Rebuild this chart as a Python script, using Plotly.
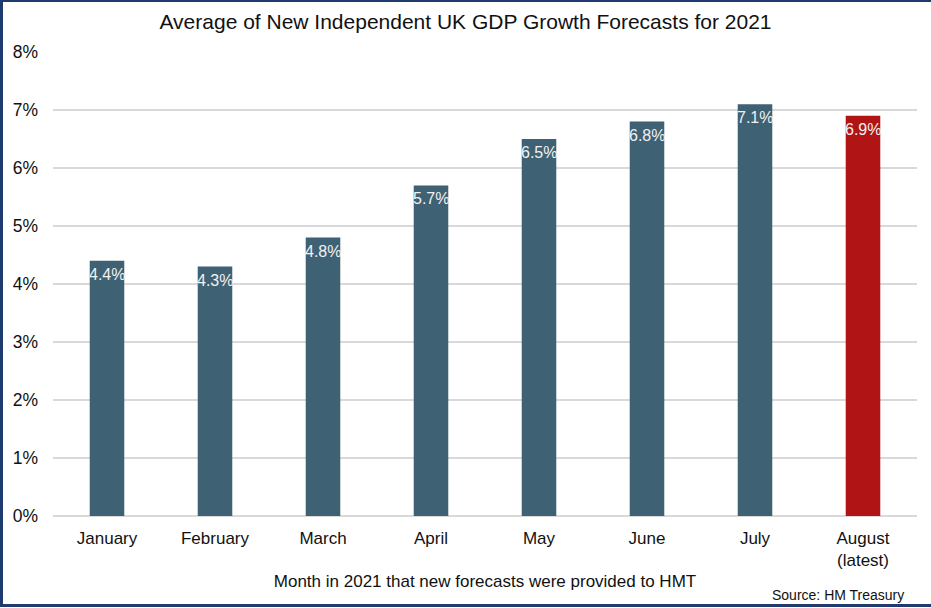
import plotly.graph_objects as go

months = ["January", "February", "March", "April", "May", "June", "July", "August<br>(latest)"]
forecasts = [4.4, 4.3, 4.8, 5.7, 6.5, 6.8, 7.1, 6.9]
bar_colors = ["#3e6174"] * 7 + ["#b01414"]
y_ticks = [0, 1, 2, 3, 4, 5, 6, 7, 8]
y_tick_labels = [f"{v}%" for v in y_ticks]

W, H = 931, 608
ML, MR, MT, MB = 53, 14, 52, 92
PW, PH = W - ML - MR, H - MT - MB

def px_x(px):
    return (px - ML) / PW

def px_y(py):
    return (H - MB - py) / PH

fig = go.Figure(
    go.Bar(
        x=months,
        y=forecasts,
        marker=dict(color=bar_colors, line=dict(width=0)),
        width=0.32,
        hoverinfo="skip",
    )
)

# value labels sitting just inside the top of each bar
for m, v in zip(months, forecasts):
    fig.add_annotation(
        x=m, y=v, text=f"{v:.1f}%", showarrow=False,
        yanchor="top", yshift=-3,
        font=dict(family="Liberation Sans, Arial", size=16, color="#f2f2f2"),
    )

fig.add_annotation(
    xref="paper", yref="paper", x=px_x(906), y=px_y(595),
    text="Source: HM Treasury", showarrow=False,
    xanchor="right", yanchor="middle",
    font=dict(family="Liberation Sans, Arial", size=14, color="#111111"),
)

border = "#1f3a6e"
fig.add_shape(type="rect", xref="paper", yref="paper",
              x0=px_x(0), x1=px_x(3), y0=px_y(607), y1=px_y(0),
              fillcolor=border, line=dict(width=0), layer="above")
fig.add_shape(type="rect", xref="paper", yref="paper",
              x0=px_x(0), x1=px_x(W), y0=px_y(2), y1=px_y(0),
              fillcolor=border, line=dict(width=0), layer="above")
fig.add_shape(type="rect", xref="paper", yref="paper",
              x0=px_x(0), x1=px_x(W), y0=px_y(607), y1=px_y(604),
              fillcolor=border, line=dict(width=0), layer="above")

fig.update_layout(
    width=W, height=H,
    margin=dict(l=ML, r=MR, t=MT, b=MB, pad=0),
    paper_bgcolor="white", plot_bgcolor="white",
    font=dict(family="Liberation Sans, Arial", color="#111111"),
    showlegend=False,
    bargap=0.68,
    title=dict(
        text="Average of New Independent UK GDP Growth Forecasts for 2021",
        x=0.5, xref="container", xanchor="center",
        y=1 - 22 / H, yanchor="middle",
        font=dict(size=21, color="#111111"),
    ),
    xaxis=dict(
        showgrid=False, showline=False, zeroline=False, ticks="",
        tickfont=dict(size=17, color="#111111"), ticklabelstandoff=10,
        title=dict(text="Month in 2021 that new forecasts were provided to HMT",
                   font=dict(size=17, color="#111111"), standoff=6),
    ),
    yaxis=dict(
        range=[0, 8], tickvals=y_ticks, ticktext=y_tick_labels,
        showgrid=True, gridcolor="#d9d9d9", gridwidth=1.5,
        zeroline=True, zerolinecolor="#d9d9d9", zerolinewidth=1.5,
        showline=False, ticks="", ticklabelstandoff=14,
        tickfont=dict(size=17.5, color="#111111"),
    ),
)

fig.write_html("out.html")
